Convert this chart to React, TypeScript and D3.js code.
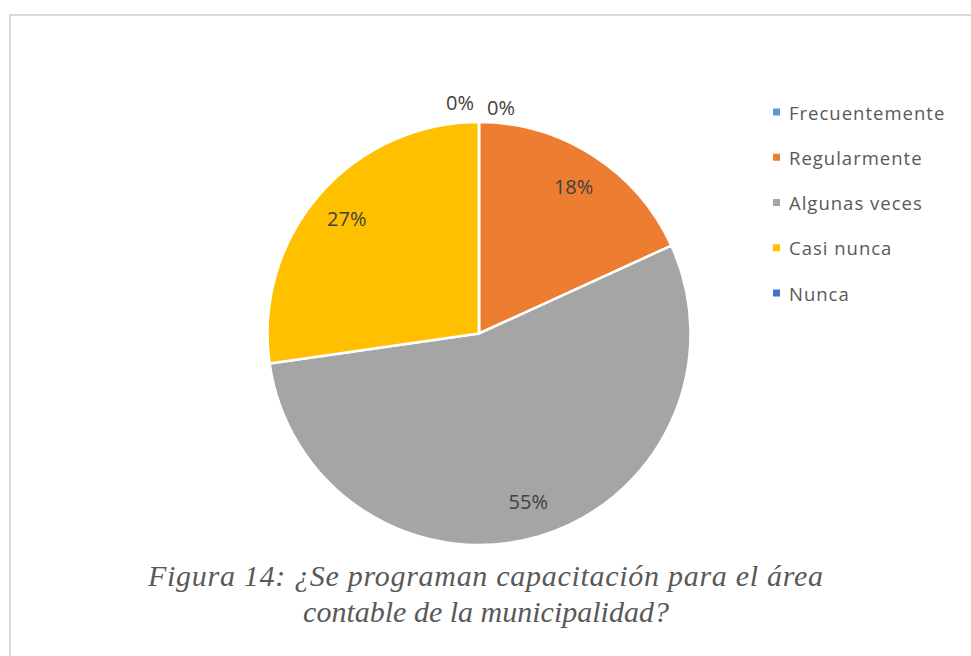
import React from "react";
import * as d3 from "d3";

const categories = ["Frecuentemente", "Regularmente", "Algunas veces", "Casi nunca", "Nunca"];
const values = [0, 2, 6, 3, 0];
const colors = ["#5B9BD5", "#ED7D31", "#A5A5A5", "#FFC000", "#4472C4"];
const titleLines = [
  "Figura 14: ¿Se programan capacitación para el área",
  "contable de la municipalidad?",
];

const W = 971;
const H = 656;
const CX = 479;
const CY = 333.5;
const R = 211.5;
const FONT = "'Open Sans', Lato, sans-serif";

export default function App() {
  const total = d3.sum(values);
  const pie = d3.pie<number>().sort(null).value((d) => d);
  const arcs = pie(values);
  const arcGen = d3.arc<d3.PieArcDatum<number>>().innerRadius(0).outerRadius(R);
  const labelArc = d3.arc<d3.PieArcDatum<number>>().innerRadius(175).outerRadius(175);
  const pct = d3.format(".0%");

  const legendY = d3.scalePoint<string>().domain(categories).range([112, 293]);

  return (
    <svg
      width={W}
      height={H}
      style={{ position: "absolute", left: 0, top: 0, background: "#fff" }}
    >
      <rect x={0} y={0} width={W} height={H} fill="#fff" />
      <rect x={10} y={15} width={W + 20} height={H + 20} fill="#fff" stroke="#d9d9d9" strokeWidth={2} />
      <g transform={`translate(${CX},${CY})`}>
        {arcs.map((a, i) => (
          <path key={categories[i]} d={arcGen(a) || ""} fill={colors[i]} stroke="#fff" strokeWidth={2.5} strokeLinejoin="round" />
        ))}
        {arcs.map((a, i) => {
          let x: number, y: number;
          if (values[i] === 0) {
            const r = i === 0 ? 226 : 231;
            const ang = a.startAngle;
            x = r * Math.sin(ang) + (i === 0 ? 22 : -19);
            y = -r * Math.cos(ang);
          } else {
            [x, y] = labelArc.centroid(a);
          }
          return (
            <text
              key={"l" + i}
              x={x}
              y={y}
              textAnchor="middle"
              dominantBaseline="central"
              fontFamily={FONT}
              fontSize={20}
              fill="#404040"
            >
              {pct(values[i] / total)}
            </text>
          );
        })}
      </g>
      <g>
        {categories.map((c, i) => (
          <g key={c} transform={`translate(0,${legendY(c)})`}>
            <rect x={773} y={-3.5} width={7} height={7} fill={colors[i]} />
            <text x={789} y={0} dominantBaseline="central" fontFamily={FONT} fontSize={18.5} letterSpacing={1} fill="#595959">
              {c}
            </text>
          </g>
        ))}
      </g>
      <g fontFamily="'Liberation Serif', 'Times New Roman', serif" fontStyle="italic" fontSize={30} fill="#595959">
        <text x={485.5} y={586} textAnchor="middle" textLength={675} lengthAdjust="spacing">{titleLines[0]}</text>
        <text x={486} y={622} textAnchor="middle">{titleLines[1]}</text>
      </g>
    </svg>
  );
}
